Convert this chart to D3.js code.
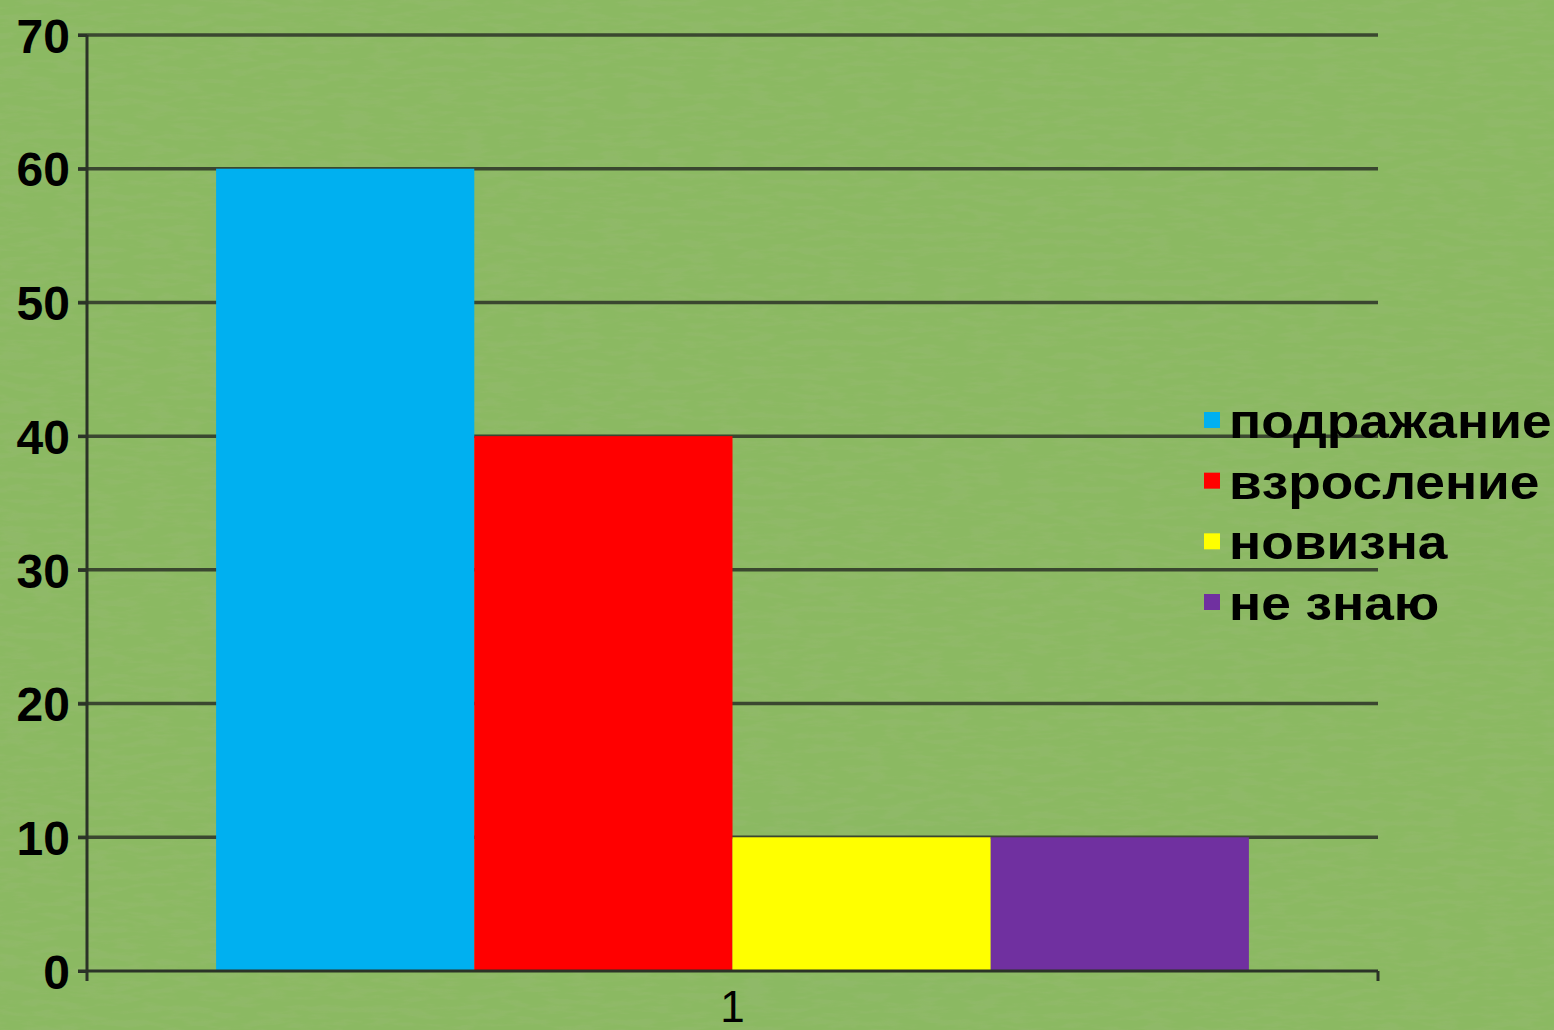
<!DOCTYPE html>
<html><head><meta charset="utf-8">
<script src="https://cdn.jsdelivr.net/npm/d3@7"></script>
<style>html,body{margin:0;padding:0;background:#8ab862;overflow:hidden}</style>
</head><body>
<svg id="c" width="1554" height="1030"></svg>
<script>
const categories = ["1"];
const seriesNames = ["подражание", "взросление", "новизна", "не знаю"];
const seriesValues = [60, 40, 10, 10];
const seriesColors = ["#00b0f0", "#ff0000", "#ffff00", "#7030a0"];
const yTicks = [0, 10, 20, 30, 40, 50, 60, 70];

(function () {
const svg = d3.select("#c");
const W = 1554, H = 1030;
const mLeft = 87, mRight = 1378, mTop = 35, mBottom = 971;

// background with texture
const defs = svg.append("defs");
const f = defs.append("filter").attr("id", "tex").attr("x", 0).attr("y", 0).attr("width", "100%").attr("height", "100%");
f.append("feTurbulence").attr("type", "fractalNoise").attr("baseFrequency", "0.035 0.15").attr("numOctaves", 3).attr("seed", 11).attr("result", "n");
f.append("feColorMatrix").attr("in", "n").attr("type", "matrix")
  .attr("values", "0 0 0 0 0.33  0 0 0 0 0.5  0 0 0 0 0.18  -4 0 0 0 2.3").attr("result", "m");
f.append("feComposite").attr("in", "m").attr("in2", "SourceGraphic").attr("operator", "in");
svg.append("rect").attr("width", W).attr("height", H).attr("fill", "#8bb962");
svg.append("rect").attr("width", W).attr("height", H).attr("fill", "#000").attr("opacity", 0.3).attr("filter", "url(#tex)");

const y = d3.scaleLinear().domain([0, 70]).range([mBottom, mTop]);
const x0 = d3.scaleBand().domain(categories).range([mLeft, mRight]).paddingInner(0).paddingOuter(0.125);
const x1 = d3.scaleBand().domain(seriesNames).range([0, x0.bandwidth()]).padding(0);

const lineColor = "#2b3327";
// gridlines
svg.append("g").selectAll("line").data(yTicks.filter(d => d > 0)).join("line")
  .attr("x1", mLeft - 9).attr("x2", mRight)
  .attr("y1", d => y(d)).attr("y2", d => y(d))
  .attr("stroke", lineColor).attr("stroke-opacity", 0.85).attr("stroke-width", 3.5);

// bars
const g = svg.append("g");
categories.forEach(c => {
  g.selectAll("rect").data(seriesNames.map((s, i) => ({s, v: seriesValues[i], col: seriesColors[i]}))).join("rect")
    .attr("x", d => x0(c) + x1(d.s))
    .attr("y", d => y(d.v))
    .attr("width", x1.bandwidth())
    .attr("height", d => y(0) - y(d.v))
    .attr("fill", d => d.col);
});

// y axis
const yAxis = d3.axisLeft(y).tickValues(yTicks).tickSize(9).tickPadding(8).tickFormat(d3.format("d"));
const ya = svg.append("g").attr("transform", `translate(${mLeft},0)`).call(yAxis);
ya.select(".domain").remove();
ya.selectAll(".tick line").attr("stroke", lineColor).attr("stroke-width", 3);
ya.selectAll(".tick text").attr("font-family", "Liberation Sans, Arial, sans-serif")
  .attr("font-size", 48).attr("font-weight", "bold").attr("fill", "#000").attr("dy", "0.36em")
  .attr("x", -17);
svg.append("line").attr("x1", mLeft).attr("x2", mLeft).attr("y1", mTop).attr("y2", mBottom + 10)
  .attr("stroke", lineColor).attr("stroke-width", 3);

// x axis
svg.append("line").attr("x1", mLeft - 9).attr("x2", mRight).attr("y1", mBottom).attr("y2", mBottom)
  .attr("stroke", lineColor).attr("stroke-width", 3);
svg.append("line").attr("x1", mRight).attr("x2", mRight).attr("y1", mBottom).attr("y2", mBottom + 10)
  .attr("stroke", lineColor).attr("stroke-width", 3);
svg.selectAll("text.cat").data(categories).join("text").attr("class", "cat")
  .attr("x", d => x0(d) + x0.bandwidth() / 2).attr("y", 1022)
  .attr("text-anchor", "middle").attr("font-family", "Liberation Sans, Arial, sans-serif")
  .attr("font-size", 44).attr("fill", "#000").text(d => d);

// legend
const lg = svg.append("g");
const rowY = d3.scalePoint().domain(seriesNames).range([438, 620]);
seriesNames.forEach((s, i) => {
  lg.append("rect").attr("x", 1204).attr("y", rowY(s) - 26).attr("width", 16).attr("height", 16)
    .attr("fill", seriesColors[i]);
  lg.append("text").attr("transform", `translate(1229,${rowY(s)}) scale(1.11,1)`)
    .attr("font-family", "Liberation Sans, Arial, sans-serif").attr("font-size", 48).attr("font-weight", "bold")
    .attr("fill", "#000").text(s);
});
})();
</script>
</body></html>
